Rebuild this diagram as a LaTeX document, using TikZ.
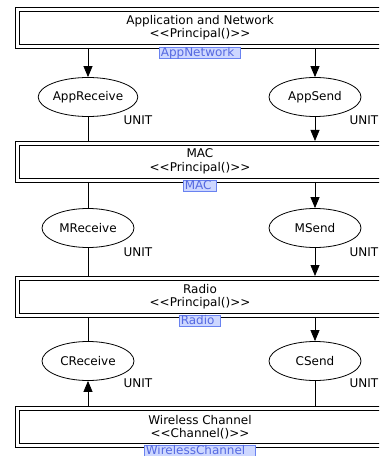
\documentclass[tikz,border=0pt]{standalone}
\usepackage{fontspec}
\setmainfont{DejaVu Sans}
\usetikzlibrary{arrows.meta,shapes.geometric}
\definecolor{tabfill}{RGB}{205,215,255}
\definecolor{tabline}{RGB}{105,130,240}
\definecolor{tabtext}{RGB}{85,105,225}
\newcommand{\cpnfont}{\fontsize{12bp}{13.5bp}\selectfont}

\begin{document}
\begin{tikzpicture}[x=1bp,y=-1bp,line width=0.8bp]
\tikzstyle{every node}=[font=\cpnfont]
\tikzstyle{subst}=[draw,minimum width=362bp,minimum height=33bp,outer sep=4bp,align=center]
\tikzstyle{place}=[draw,ellipse,minimum width=92bp,minimum height=39bp,inner sep=0pt]
\tikzstyle{tab}=[draw=tabline,fill=tabfill,text=tabtext,anchor=north west,align=left,line width=0.6bp,
  inner xsep=1.5bp,inner ysep=0.3bp,text height=8.6bp,text depth=2.2bp]
\tikzstyle{arc}=[-{Triangle[width=9bp,length=11bp]}]
\clip (0,0) rectangle (379,456);

% substitution transitions
\node[subst] (AppNet) at (200,27.5) {Application and Network\\<{}<Principal()>{}>};
\node[subst] (MAC) at (200,161.5) {MAC\\<{}<Principal()>{}>};
\node[subst] (Radio) at (200,296.5) {Radio\\<{}<Principal()>{}>};
\node[subst] (WChan) at (200,427) {Wireless Channel\\<{}<Channel()>{}>};
\foreach \t in {AppNet,MAC,Radio,WChan}
  \draw (\t.north west) rectangle (\t.south east);
\node[tab,text width=78bp] (tAppNet) at (159,47) {AppNetwork};
\node[tab,text width=30bp] (tMAC) at (183,180) {MAC};
\node[tab,text width=38bp] (tRadio) at (179,315) {Radio};
\node[tab,text width=108bp] (tWChan) at (144,445) {WirelessChannel};

% places
\node[place] (AppReceive) at (88,97) {AppReceive};
\node[place] (AppSend) at (315,97) {AppSend};
\node[place] (MReceive) at (88,228) {MReceive};
\node[place] (MSend) at (315,228) {MSend};
\node[place] (CReceive) at (88,361) {CReceive};
\node[place] (CSend) at (315,361) {CSend};
\node (u1) at (138,120) {UNIT};
\node (u2) at (364,120) {UNIT};
\node (u3) at (138,252) {UNIT};
\node (u4) at (364,252) {UNIT};
\node (u5) at (138,383) {UNIT};
\node (u6) at (364,383) {UNIT};

% arcs
\draw[arc] (AppNet.south -| AppReceive) -- (AppReceive);
\draw[arc] (AppNet.south -| AppSend) -- (AppSend);
\draw (AppReceive) -- (MAC.north -| AppReceive);
\draw[arc] (AppSend) -- (MAC.north -| AppSend);
\draw (MAC.south -| MReceive) -- (MReceive);
\draw[arc] (MAC.south -| MSend) -- (MSend);
\draw (MReceive) -- (Radio.north -| MReceive);
\draw[arc] (MSend) -- (Radio.north -| MSend);
\draw (Radio.south -| CReceive) -- (CReceive);
\draw[arc] (Radio.south -| CSend) -- (CSend);
\draw[arc] (WChan.north -| CReceive) -- (CReceive);
\draw (CSend) -- (WChan.north -| CSend);
\end{tikzpicture}
\end{document}
